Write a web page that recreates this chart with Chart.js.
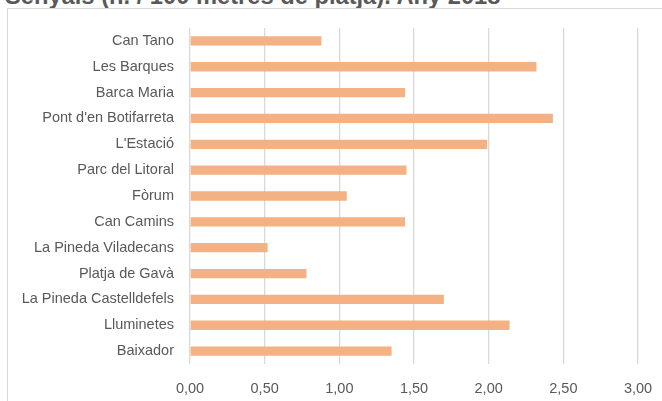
<!DOCTYPE html>
<html>
<head>
<meta charset="utf-8">
<script src="https://cdn.jsdelivr.net/npm/chart.js@4"></script>
<style>
  html, body { margin: 0; padding: 0; background: #ffffff; overflow: hidden; }
  #wrap { position: relative; width: 662px; height: 401px; overflow: hidden; }
  #title { position: absolute; left: 5px; top: -16px; font: bold 23.7px "Liberation Sans", Arial, sans-serif; color: #595959; line-height: 24px; white-space: nowrap; }
  #frame { position: absolute; left: 7px; top: 8px; width: 700px; height: 450px; border: 1px solid #d9d9d9; box-sizing: border-box; }
  #c { position: absolute; left: 0; top: 0; }
</style>
</head>
<body>
<div id="wrap">
  <div id="title">Senyals (n. / 100 metres de platja). Any 2018</div>
  <div id="frame"></div>
  <canvas id="c" width="662" height="401"></canvas>
</div>
<script>
const titleText = "Senyals (n. / 100 metres de platja). Any 2018";
const categories = [
  "Can Tano", "Les Barques", "Barca Maria", "Pont d'en Botifarreta", "L'Estació",
  "Parc del Litoral", "Fòrum", "Can Camins", "La Pineda Viladecans", "Platja de Gavà",
  "La Pineda Castelldefels", "Lluminetes", "Baixador"
];
const senyals = [0.88, 2.32, 1.44, 2.43, 1.99, 1.45, 1.05, 1.44, 0.52, 0.78, 1.70, 2.14, 1.35];
const xTicks = [0, 0.5, 1, 1.5, 2, 2.5, 3];

const labelFont = { family: "'Liberation Sans', Arial, sans-serif", size: 14.5 };
new Chart(document.getElementById('c'), {
  type: 'bar',
  data: {
    labels: categories,
    datasets: [{
      label: titleText,
      data: senyals,
      backgroundColor: '#F4B183',
      borderWidth: 0,
      barPercentage: 0.36,
      categoryPercentage: 1
    }]
  },
  options: {
    indexAxis: 'y',
    responsive: false,
    animation: false,
    layout: { padding: { left: 8, top: 28, right: 24, bottom: 0 } },
    plugins: { legend: { display: false }, title: { display: false }, tooltip: { enabled: false } },
    scales: {
      x: {
        min: 0, max: 3,
        afterBuildTicks: (s) => { s.ticks = xTicks.map(v => ({ value: v })); },
        afterFit: (s) => { s.height = 37; s.paddingLeft = 0; s.paddingRight = 0; },
        ticks: {
          color: '#595959', font: labelFont, padding: 16,
          callback: (v) => Number(v).toFixed(2).replace('.', ',')
        },
        grid: { color: '#d9d9d9', lineWidth: 1.3, drawTicks: false },
        border: { display: false }
      },
      y: {
        afterFit: (s) => { s.width = 182; s.paddingTop = 0; s.paddingBottom = 0; },
        ticks: { color: '#595959', font: labelFont, padding: 16 },
        grid: { display: false, drawTicks: false },
        border: { display: false }
      }
    }
  }
});
</script>
</body>
</html>
